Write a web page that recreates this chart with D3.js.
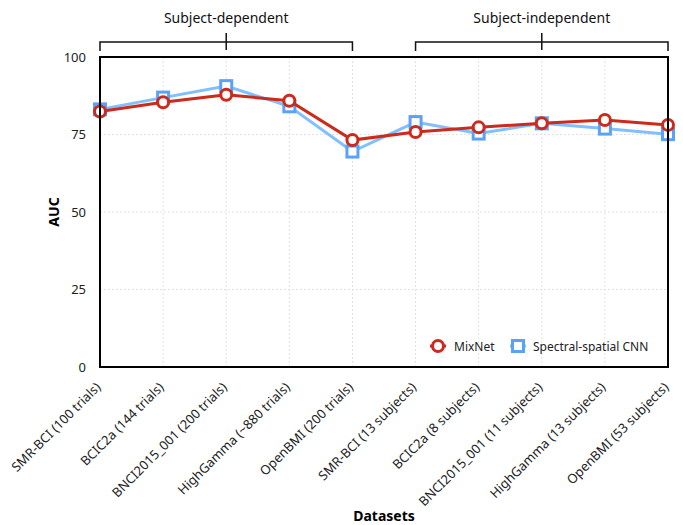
<!DOCTYPE html>
<html>
<head>
<meta charset="utf-8">
<script src="https://cdn.jsdelivr.net/npm/d3@7"></script>
<style>
    body { margin: 0; background: #ffffff; }
    text { font-family: "Noto Sans", "Open Sans", sans-serif; }
</style>
</head>
<body>
<script>
// 数据
const datasets = [
    'SMR-BCI (100 trials)', 'BCIC2a (144 trials)', 'BNCI2015_001 (200 trials)',
    'HighGamma (~880 trials)', 'OpenBMI (200 trials)',
    'SMR-BCI (13 subjects)', 'BCIC2a (8 subjects)', 'BNCI2015_001 (11 subjects)',
    'HighGamma (13 subjects)', 'OpenBMI (53 subjects)'
];
const mixnetAUC = [82.4, 85.4, 87.8, 85.9, 73.2, 75.8, 77.3, 78.6, 79.7, 78.1];
const cnnAUC = [83.1, 86.9, 90.6, 84.1, 69.5, 79.0, 75.3, 78.6, 76.9, 75.1];
const yTicks = [0, 25, 50, 75, 100];
const groups = [
    {label: 'Subject-dependent', from: 0, to: 4},
    {label: 'Subject-independent', from: 5, to: 9}
];

const width = 683, height = 525;
const margin = {top: 57, right: 15, bottom: 158, left: 100};
const innerW = width - margin.left - margin.right;
const innerH = height - margin.top - margin.bottom;

const svg = d3.select('body')
    .append('svg')
    .attr('width', width)
    .attr('height', height);

const g = svg.append('g')
    .attr('transform', `translate(${margin.left},${margin.top})`);

const x = d3.scalePoint().domain(datasets).range([0, innerW]).padding(0);
const y = d3.scaleLinear().domain([0, 100]).range([innerH, 0]);

// 网格线
g.append('g')
    .selectAll('line')
    .data(datasets)
    .join('line')
    .attr('x1', d => x(d)).attr('x2', d => x(d))
    .attr('y1', 0).attr('y2', innerH)
    .attr('stroke', '#e2e2e2')
    .attr('stroke-dasharray', '2,2')
    .attr('stroke-width', 1);
g.append('g')
    .selectAll('line')
    .data(yTicks)
    .join('line')
    .attr('x1', 0).attr('x2', innerW)
    .attr('y1', d => y(d)).attr('y2', d => y(d))
    .attr('stroke', '#e2e2e2')
    .attr('stroke-dasharray', '2,2')
    .attr('stroke-width', 1);

// y 轴
const yAxis = g.append('g')
    .call(d3.axisLeft(y).tickValues(yTicks).tickSize(0).tickPadding(14));
yAxis.select('.domain').remove();
yAxis.selectAll('text')
    .style('font-size', '13px')
    .attr('fill', '#222');

// x 轴
const xAxis = g.append('g')
    .attr('transform', `translate(0,${innerH})`)
    .call(d3.axisBottom(x).tickSize(0).tickPadding(0));
xAxis.select('.domain').remove();
xAxis.selectAll('text')
    .style('font-size', '13px')
    .attr('fill', '#222')
    .attr('text-anchor', 'end')
    .attr('dy', 0)
    .attr('transform', 'translate(1,21) rotate(-45)');

// 轴标题
svg.append('text')
    .attr('x', margin.left + innerW / 2)
    .attr('y', 521)
    .attr('text-anchor', 'middle')
    .style('font-size', '14px')
    .style('font-weight', 'bold')
    .text('Datasets');
svg.append('text')
    .attr('transform', `translate(59,${margin.top + innerH / 2}) rotate(-90)`)
    .attr('text-anchor', 'middle')
    .style('font-size', '14px')
    .style('font-weight', 'bold')
    .text('AUC');

// 折线
const line = d3.line()
    .x((d, i) => x(datasets[i]))
    .y(d => y(d));

const series = [
    {name: 'Spectral-spatial CNN', values: cnnAUC, line: '#80c0ff', marker: '#5aa2f5', shape: 'square'},
    {name: 'MixNet', values: mixnetAUC, line: '#cc2a1c', marker: '#cc2a1c', shape: 'circle'}
];

series.forEach(s => {
    g.append('path')
        .datum(s.values)
        .attr('fill', 'none')
        .attr('stroke', s.line)
        .attr('stroke-width', 3)
        .attr('d', line);
    const pts = g.append('g')
        .selectAll('g')
        .data(s.values)
        .join('g')
        .attr('transform', (d, i) => `translate(${x(datasets[i])},${y(d)})`);
    drawMarker(pts, s);
});

function drawMarker(sel, s) {
    if (s.shape === 'circle') {
        sel.append('circle')
            .attr('r', 5.5)
            .attr('fill', '#fff')
            .attr('stroke', s.marker)
            .attr('stroke-width', 3);
    } else {
        sel.append('rect')
            .attr('x', -5.5).attr('y', -5.5)
            .attr('width', 11).attr('height', 11)
            .attr('fill', '#fff')
            .attr('stroke', s.marker)
            .attr('stroke-width', 3);
    }
}

// 边框
g.append('rect')
    .attr('width', innerW)
    .attr('height', innerH)
    .attr('fill', 'none')
    .attr('stroke', '#000')
    .attr('stroke-width', 2);

// 图例
const legendItems = [
    {s: series[1], x: 438, tx: 454},
    {s: series[0], x: 518, tx: 533}
];
legendItems.forEach(item => {
    const lg = svg.append('g');
    lg.append('line')
        .attr('x1', item.x - 8).attr('x2', item.x + 8)
        .attr('y1', 346).attr('y2', 346)
        .attr('stroke', item.s.line)
        .attr('stroke-width', 3);
    const m = lg.append('g').attr('transform', `translate(${item.x},346)`);
    drawMarker(m, item.s);
    lg.append('text')
        .attr('x', item.tx)
        .attr('y', 350.5)
        .style('font-size', '12px')
        .attr('fill', '#222')
        .text(item.s.name);
});

// 分组括号
groups.forEach(grp => {
    const x0 = margin.left + x(datasets[grp.from]);
    const x1 = margin.left + x(datasets[grp.to]);
    const xm = (x0 + x1) / 2;
    const by = 42;
    svg.append('path')
        .attr('d', `M${x0},51 L${x0},${by} L${x1},${by} L${x1},51 M${xm},33 L${xm},50`)
        .attr('fill', 'none')
        .attr('stroke', '#111')
        .attr('stroke-width', 1.5);
    svg.append('text')
        .attr('x', xm)
        .attr('y', 23)
        .attr('text-anchor', 'middle')
        .style('font-size', '14px')
        .attr('fill', '#111')
        .text(grp.label);
});
</script>
</body>
</html>
